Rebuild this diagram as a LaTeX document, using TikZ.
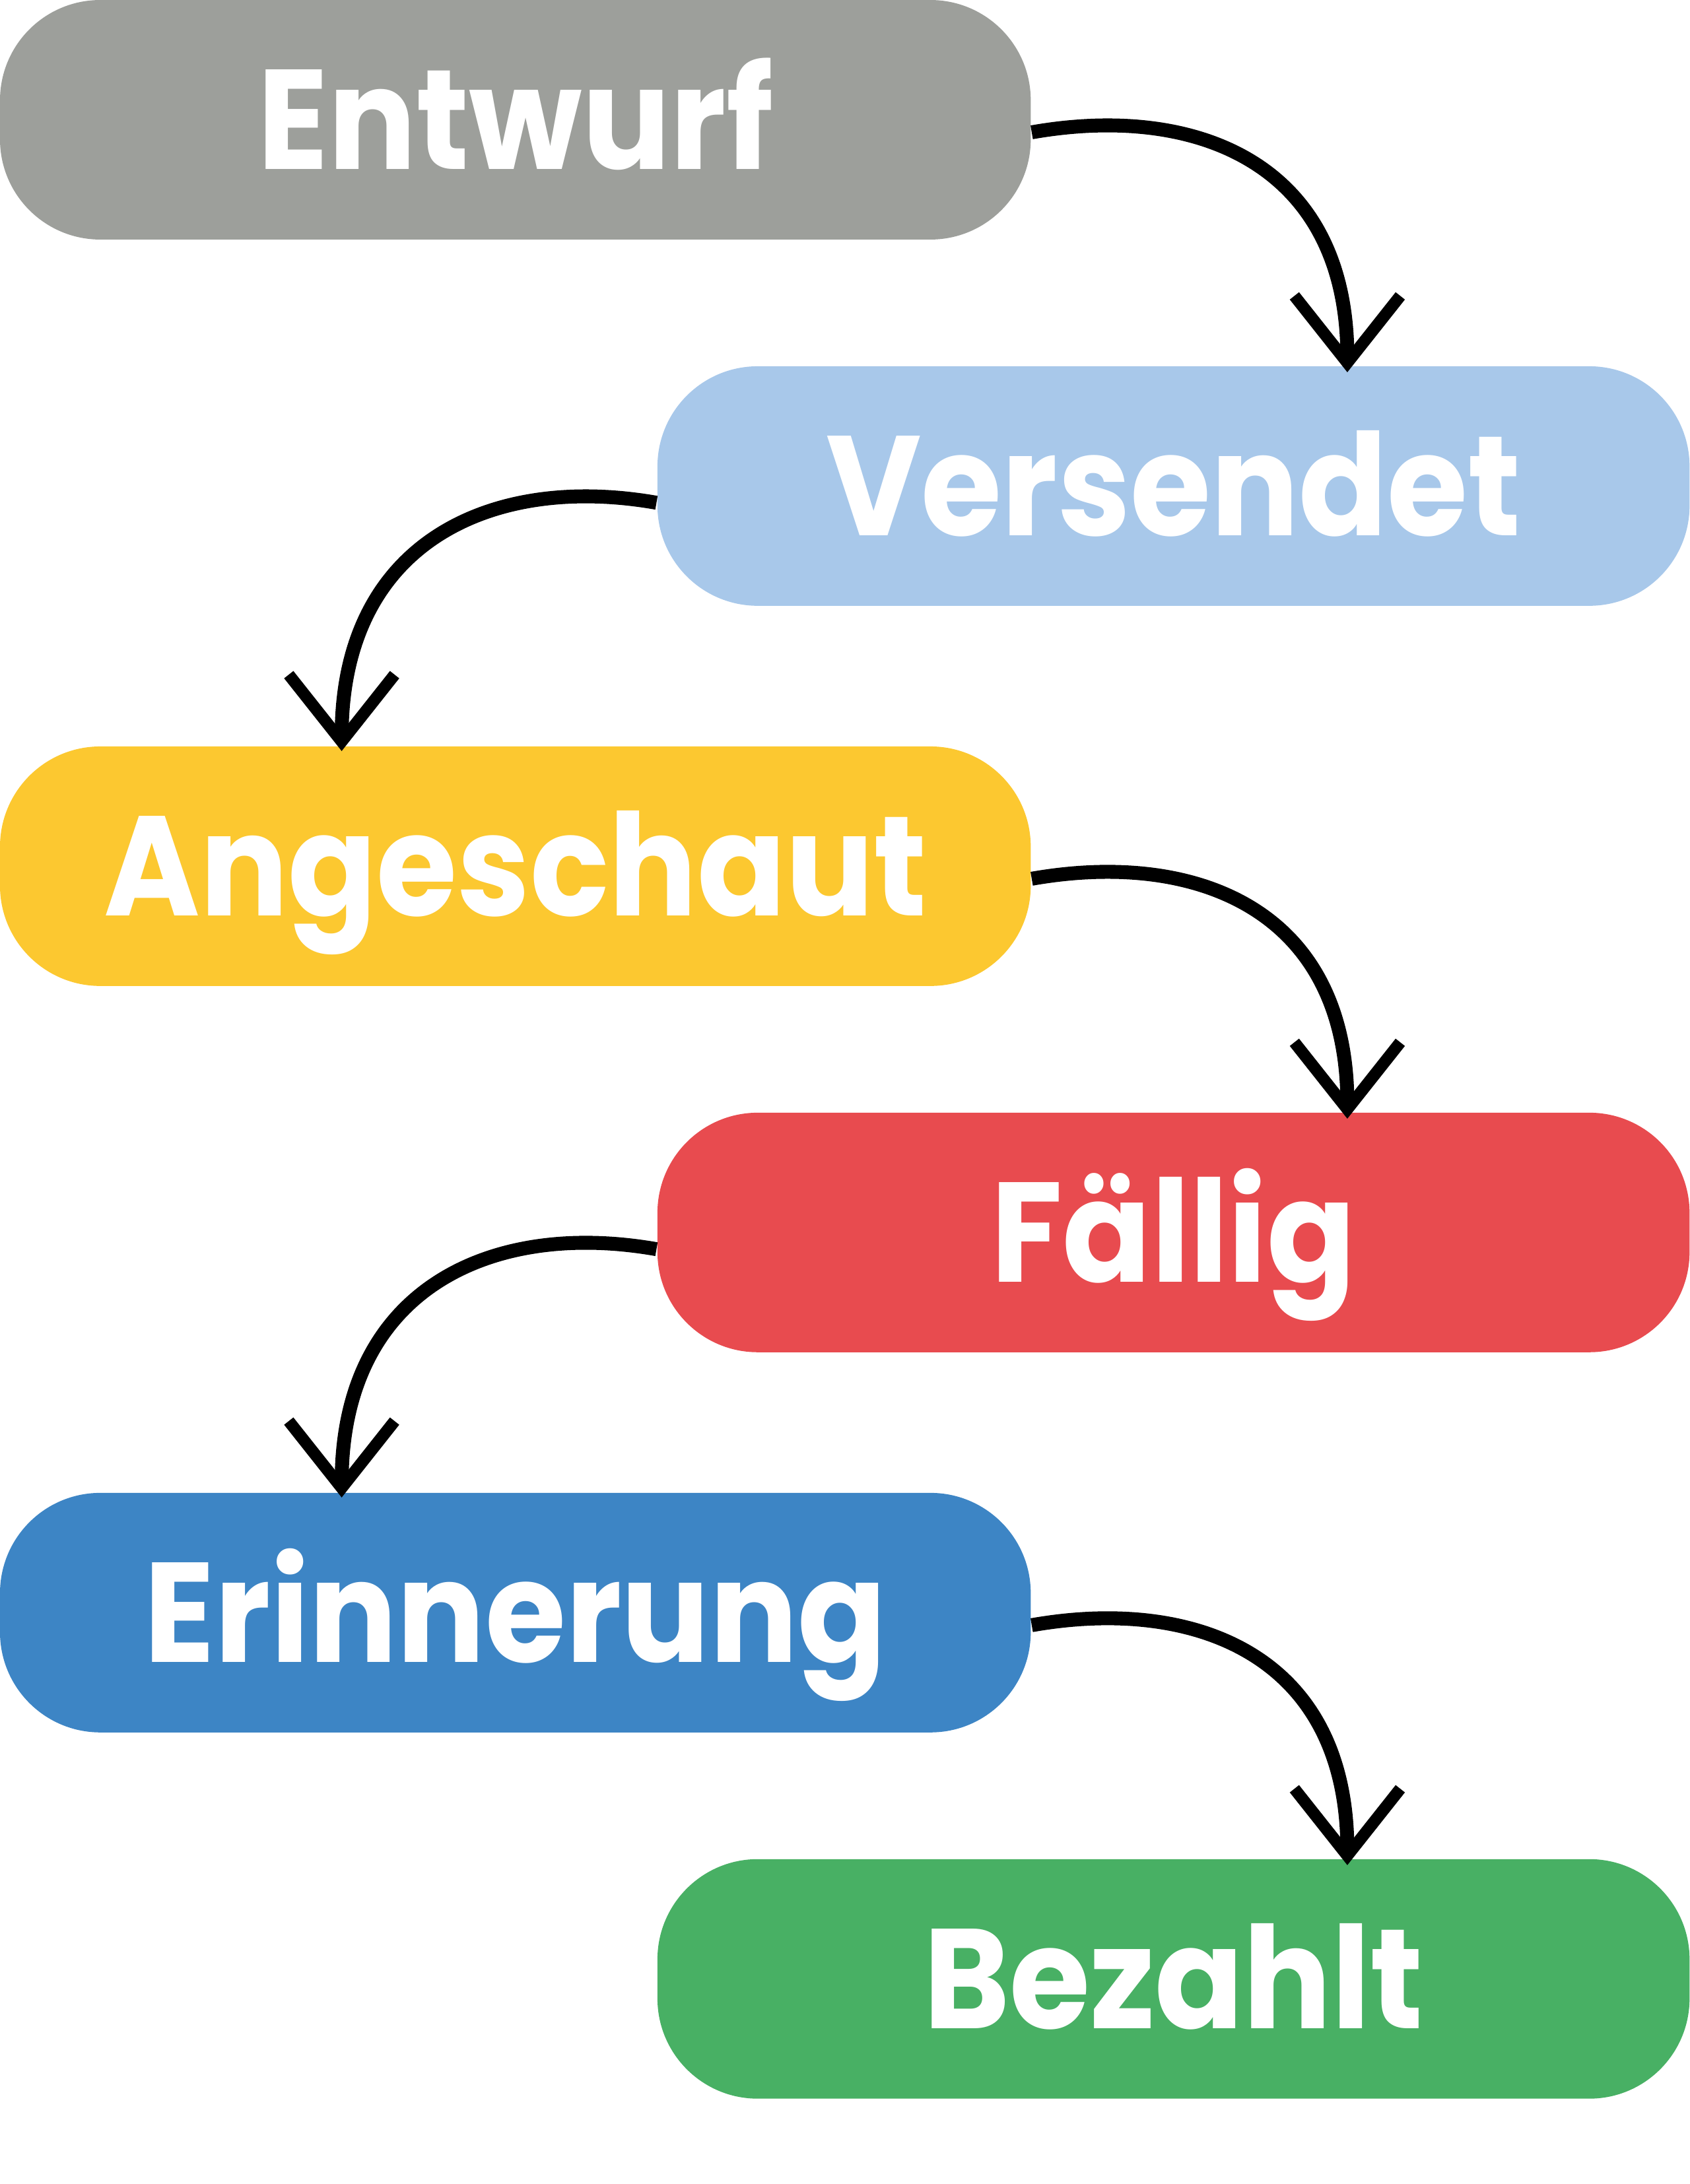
\documentclass[tikz,border=0pt]{standalone}
\usepackage{fontspec}
\newfontfamily\stagefont{Poppins}[FakeStretch=0.92]
\usetikzlibrary{arrows.meta}
\definecolor{entwurfgray}{HTML}{9D9F9B}
\definecolor{versendetblue}{HTML}{A8C8EA}
\definecolor{angeschautyellow}{HTML}{FCC830}
\definecolor{faelligred}{HTML}{E84B4F}
\definecolor{erinnerungblue}{HTML}{3D85C5}
\definecolor{bezahltgreen}{HTML}{48B064}
\begin{document}
\begin{tikzpicture}[
	stage/.style={rounded corners=0.72cm, minimum width=7.40cm, minimum height=1.72cm, inner sep=0pt,
		text=white, text height=0.71cm, text depth=0pt, font=\stagefont\bfseries\fontsize{29}{29}\selectfont},
	flow/.style={line width=0.1cm, -{Straight Barb[length=0.48cm, width=0.76cm, line width=0.085cm]}}
	]
	\useasboundingbox (0,0) rectangle (12.133,-15.683);
	% stages, left and right column
	\node[stage, fill=entwurfgray] (entwurf) at (3.70,-0.86) {Entwurf};
	\node[stage, fill=versendetblue, minimum width=7.41cm] (versendet) at (8.425,-3.49) {Versendet};
	\node[stage, fill=angeschautyellow] (angeschaut) at (3.70,-6.22) {Angeschaut};
	\node[stage, fill=faelligred, minimum width=7.41cm] (faellig) at (8.425,-8.85) {Fällig};
	\node[stage, fill=erinnerungblue] (erinnerung) at (3.70,-11.58) {Erinnerung};
	\node[stage, fill=bezahltgreen, minimum width=7.41cm] (bezahlt) at (8.425,-14.21) {Bezahlt};
	% arrows to the right
	\foreach \a/\b in {entwurf/versendet, angeschaut/faellig, erinnerung/bezahlt}
		\draw[flow] ([yshift=-0.09cm]\a.east) .. controls +(10:1.2) and +(90:1.5) .. ([xshift=4.96cm, yshift=-0.05cm]\b.north west);
	% arrows to the left
	\foreach \a/\b in {versendet/angeschaut, faellig/erinnerung}
		\draw[flow] ([yshift=-0.12cm]\a.west) .. controls +(170:1.2) and +(90:1.5) .. ([xshift=2.46cm, yshift=-0.04cm]\b.north west);
\end{tikzpicture}
\end{document}
